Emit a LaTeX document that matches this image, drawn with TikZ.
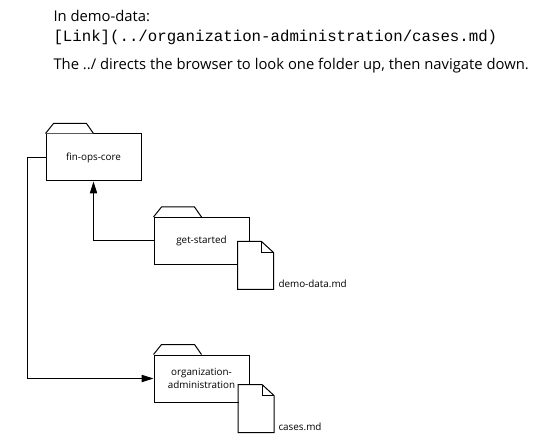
\documentclass[tikz,border=0pt]{standalone}
\usepackage{fontspec}
\setmainfont{Open Sans}
\setmonofont{Liberation Mono}
\usetikzlibrary{arrows.meta}
\begin{document}
\begin{tikzpicture}[x=0.75pt,y=-0.75pt,
  line width=0.75pt,
  folder/.style={draw, fill=white, minimum width=71.25pt, minimum height=35.25pt,
    inner sep=0pt, align=center, font=\fontsize{7.4}{9.75}\selectfont},
  docbox/.style={fill=white, minimum width=26.25pt, minimum height=35.25pt, inner sep=0pt},
  doclabel/.style={anchor=west, inner sep=0pt, font=\fontsize{7.4}{9.75}\selectfont},
  toptext/.style={anchor=west, inner sep=0pt, font=\fontsize{11.1}{13.2}\selectfont},
  arrow/.style={-{Triangle[length=9pt,width=5.5pt]}},
]
\useasboundingbox (0,0) rectangle (541,448);
\newcommand{\foldertab}[1]{\draw[fill=white] (#1.north west) -- ++(8,-10) -- ++(33,0) -- ++(7,10);}
\newcommand{\docoutline}[1]{%
  \draw (#1.north west) -- ([xshift=-9pt]#1.north east) -- ([yshift=-8.25pt]#1.north east)
        -- (#1.south east) -- (#1.south west) -- cycle;
  \draw ([xshift=-9pt]#1.north east) -- ([xshift=-9pt,yshift=-8.25pt]#1.north east)
        -- ([yshift=-8.25pt]#1.north east);}

% top text
\node[toptext] (t1) at (53,16) {In demo-data:};
\node[toptext, font=\fontsize{11.8}{13.2}\ttfamily] (t2) at (53,37) {[Link](../organization-administration/cases.md)};
\node[toptext] (t3) at (53,66) {The ../ directs the browser to look one folder up, then navigate down.};

% folders
\node[folder] (fin) at (93.5,157.5) {fin-ops-core};
\foldertab{fin}
\node[folder] (get) at (201.5,241) {get-started};
\foldertab{get}
\node[folder] (org) at (201.5,378.5) {organization-\\administration};
\foldertab{org}

% documents
\node[docbox] (demo) at (255.5,265.5) {};
\docoutline{demo}
\node[doclabel] (demolabel) at (278,284) {demo-data.md};
\node[docbox] (cases) at (256,408.5) {};
\docoutline{cases}
\node[doclabel] (caseslabel) at (278,427) {cases.md};

% connectors
\draw[arrow] (get.west) -| (fin.south);
\draw[arrow] (fin.west) -- ++(-18,0) |- (org.west);
\end{tikzpicture}
\end{document}
